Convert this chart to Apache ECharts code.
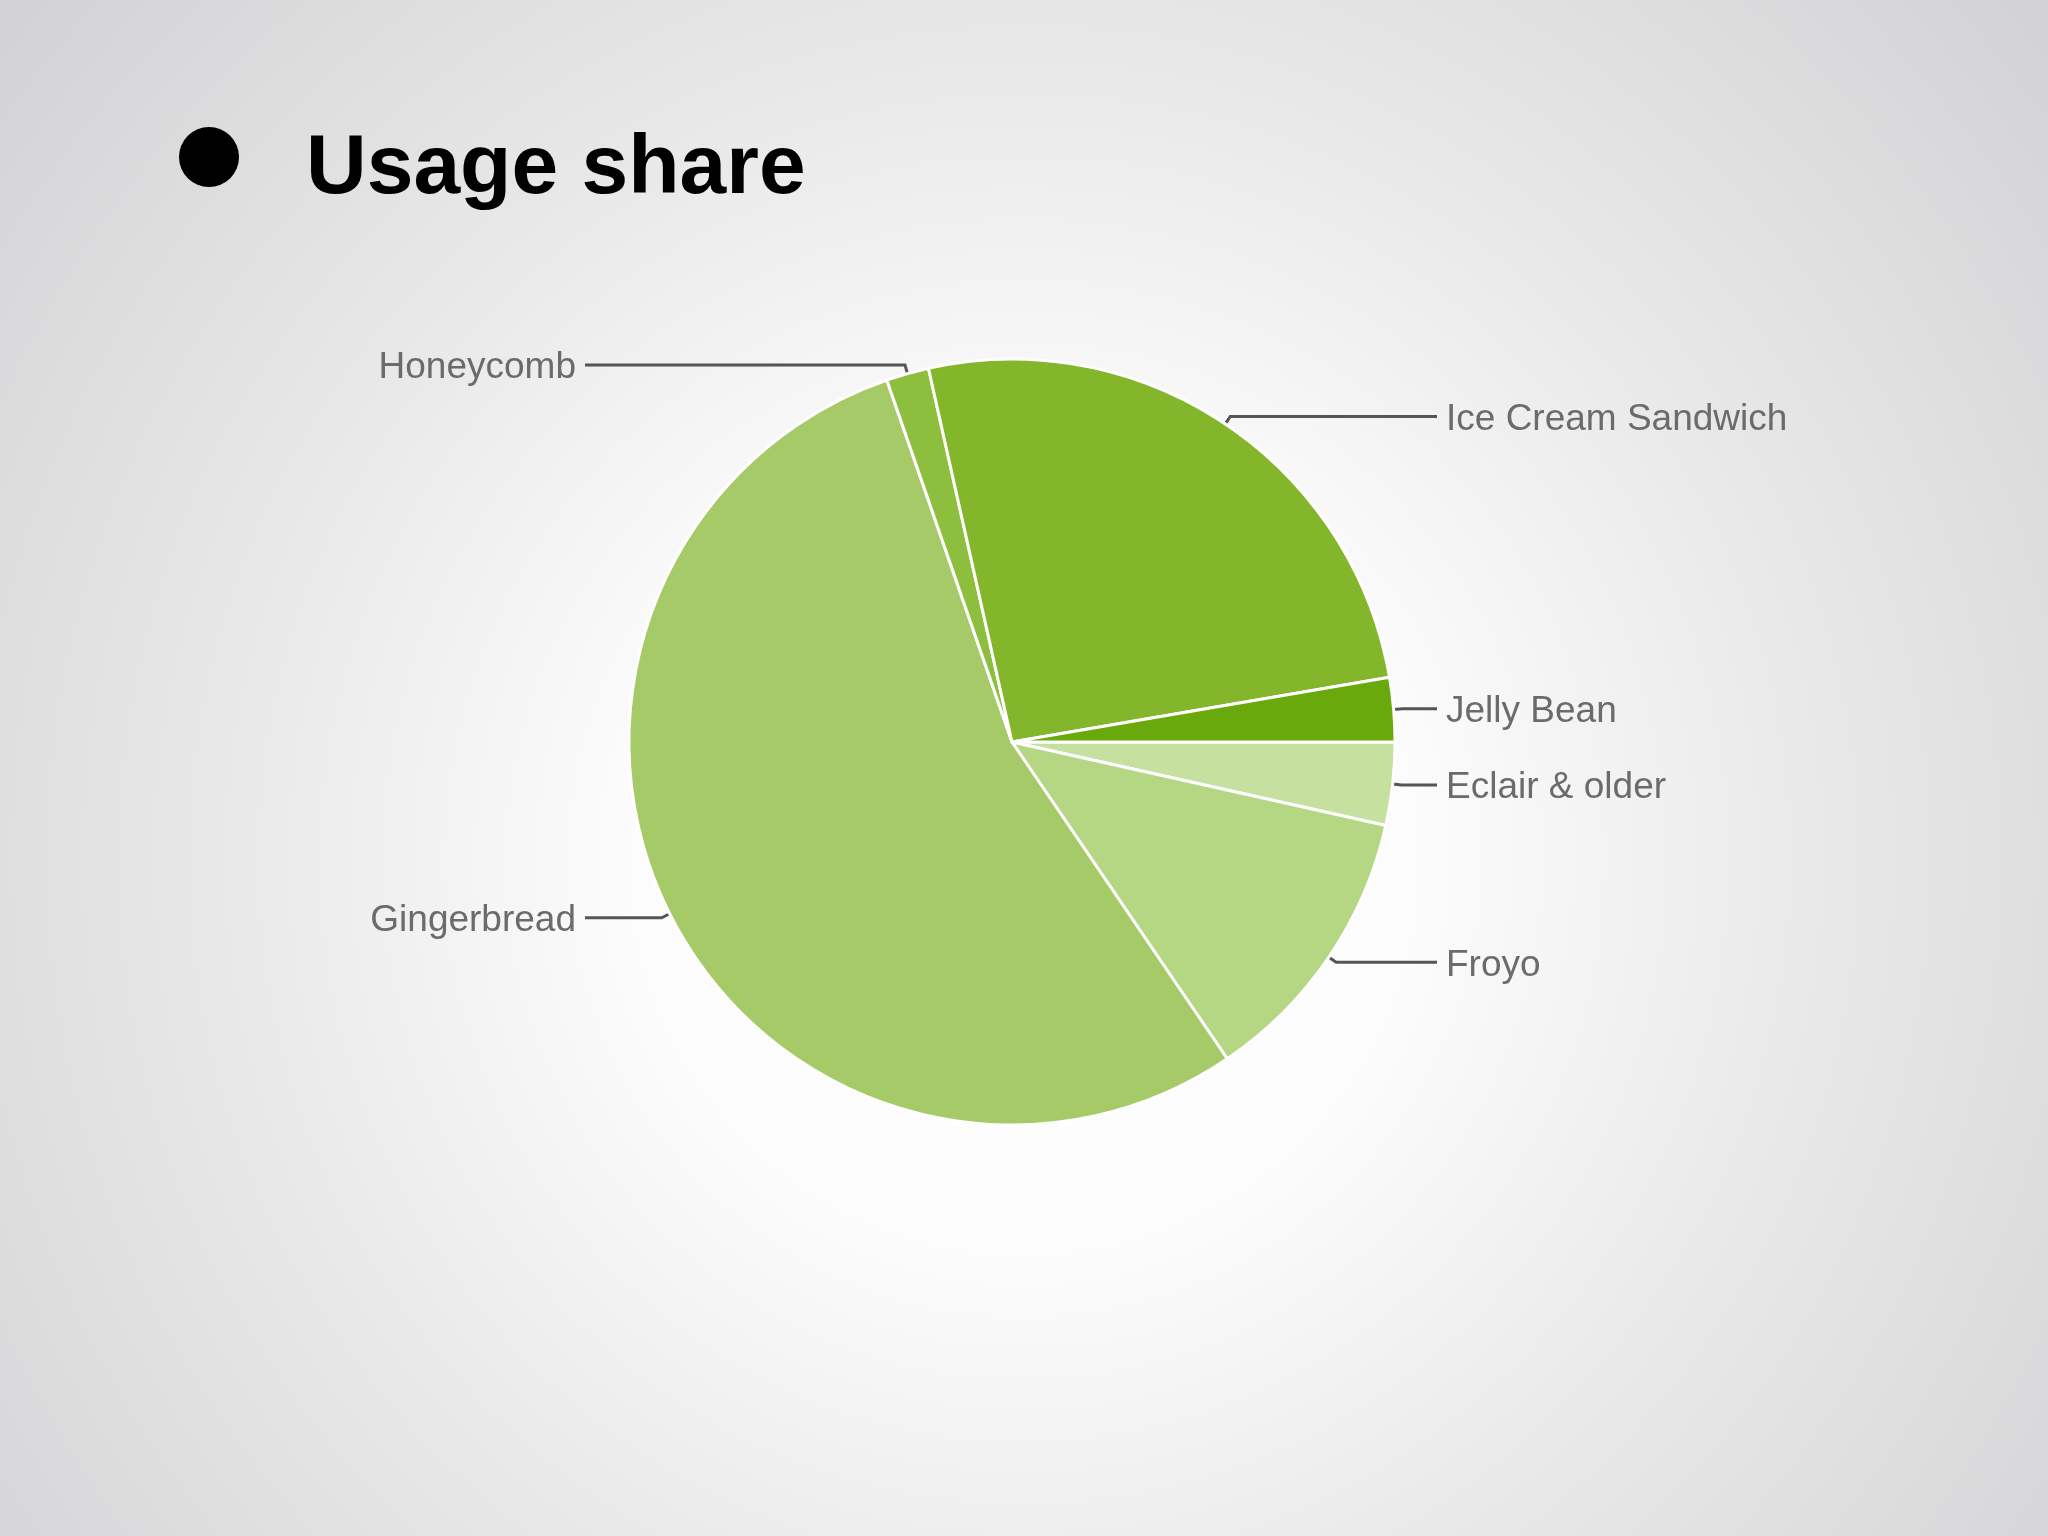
<!DOCTYPE html>
<html>
<head>
<meta charset="utf-8">
<title>Usage share</title>
<script src="https://cdn.jsdelivr.net/npm/echarts@6/dist/echarts.min.js"></script>
<style>
  html, body { margin: 0; padding: 0; }
  #chart { width: 2048px; height: 1536px; }
</style>
</head>
<body>
<div id="chart"></div>
<script>
// Android platform versions, share of devices (%)
const versions = ['Eclair & older', 'Froyo', 'Gingerbread', 'Honeycomb', 'Ice Cream Sandwich', 'Jelly Bean'];
const shares = [3.5, 12.0, 54.2, 1.8, 25.8, 2.7];
const sliceColors = ['#c6e09f', '#b5d683', '#a6ca68', '#8ebe3e', '#83b62a', '#6aa90c'];

const pieCenter = [1012, 742];
const pieRadius = 383;
// x where the label lines stop on each side
const rightLineEnd = 1437;
const leftLineEnd = 585;
const labelGap = 9;

const chart = echarts.init(document.getElementById('chart'));

const option = {
  animation: false,
  backgroundColor: {
    type: 'radial',
    x: 0.5,
    y: 0.56,
    r: 0.85,
    colorStops: [
      {offset: 0, color: '#ffffff'},
      {offset: 0.3, color: '#fcfcfc'},
      {offset: 0.6, color: '#e9e9ea'},
      {offset: 1, color: '#d3d3d5'}
    ]
  },
  title: {
    text: 'Usage share',
    left: 301,
    top: 123,
    textStyle: {
      fontFamily: 'Liberation Sans',
      fontSize: 84,
      fontWeight: 'bold',
      color: '#000'
    }
  },
  graphic: [
    {
      type: 'circle',
      shape: {cx: 209, cy: 157, r: 30},
      style: {fill: '#000'}
    }
  ],
  series: [
    {
      type: 'pie',
      center: pieCenter,
      radius: pieRadius,
      startAngle: 0,
      clockwise: true,
      avoidLabelOverlap: false,
      color: sliceColors,
      itemStyle: {
        borderColor: '#ffffff',
        borderWidth: 3
      },
      label: {
        formatter: '{b}',
        fontFamily: 'Liberation Sans',
        fontSize: 37,
        color: '#6b6b6b'
      },
      labelLine: {
        length: 9,
        length2: 20,
        lineStyle: {
          color: '#555',
          width: 3
        }
      },
      labelLayout: function (params) {
        const pts = params.labelLinePoints;
        if (!pts) return {};
        const isRight = pts[2][0] > pts[1][0];
        const endX = isRight ? rightLineEnd : leftLineEnd;
        return {
          x: isRight ? endX + labelGap : endX - labelGap,
          y: pts[1][1] + 3,
          align: isRight ? 'left' : 'right',
          verticalAlign: 'middle',
          labelLinePoints: [pts[0], pts[1], [endX, pts[1][1]]]
        };
      },
      emphasis: {disabled: true},
      data: versions.map((name, i) => ({name: name, value: shares[i]}))
    }
  ]
};

chart.setOption(option);
window.addEventListener('resize', () => {
  chart.resize();
});
</script>
</body>
</html>
